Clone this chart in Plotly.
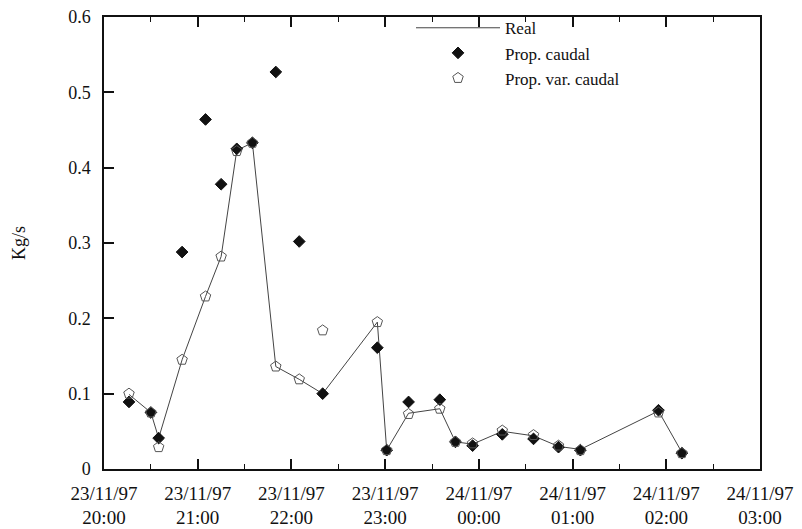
import plotly.graph_objects as go

times = ["1997-11-23 20:16", "1997-11-23 20:30", "1997-11-23 20:35", "1997-11-23 20:50",
         "1997-11-23 21:05", "1997-11-23 21:15", "1997-11-23 21:25", "1997-11-23 21:35",
         "1997-11-23 21:50", "1997-11-23 22:05", "1997-11-23 22:20", "1997-11-23 22:55",
         "1997-11-23 23:01", "1997-11-23 23:15", "1997-11-23 23:35", "1997-11-23 23:45",
         "1997-11-23 23:56", "1997-11-24 00:15", "1997-11-24 00:35", "1997-11-24 00:51",
         "1997-11-24 01:05", "1997-11-24 01:55", "1997-11-24 02:10"]

real = [0.099, 0.075, 0.041, 0.145, 0.229, 0.282, 0.423, 0.433, 0.136, 0.119, 0.100, 0.195,
        0.025, 0.074, 0.080, 0.036, 0.033, 0.050, 0.044, 0.030, 0.026, 0.077, 0.022]

prop_caudal = [0.089, 0.075, 0.041, 0.288, 0.464, 0.378, 0.425, 0.433, 0.527, 0.302, 0.100, 0.161,
               0.025, 0.089, 0.092, 0.036, 0.031, 0.046, 0.040, 0.029, 0.025, 0.078, 0.021]

prop_var_caudal = [0.100, 0.075, 0.029, 0.145, 0.229, 0.282, 0.422, 0.433, 0.136, 0.119, 0.184, 0.195,
                   0.025, 0.073, 0.080, 0.036, 0.034, 0.051, 0.045, 0.031, 0.025, 0.075, 0.021]

tick_vals = ["1997-11-23 20:00", "1997-11-23 21:00", "1997-11-23 22:00", "1997-11-23 23:00",
             "1997-11-24 00:00", "1997-11-24 01:00", "1997-11-24 02:00", "1997-11-24 03:00"]
tick_text = ["23/11/97<br>20:00", "23/11/97<br>21:00", "23/11/97<br>22:00", "23/11/97<br>23:00",
             "24/11/97<br>00:00", "24/11/97<br>01:00", "24/11/97<br>02:00", "24/11/97<br>03:00"]

font = "Liberation Serif, Times New Roman, serif"

fig = go.Figure()
fig.add_trace(go.Scatter(x=times, y=real, mode="lines", name="Real",
                         line=dict(color="#444444", width=1)))
fig.add_trace(go.Scatter(x=times, y=prop_caudal, mode="markers", name="Prop. caudal",
                         marker=dict(symbol="diamond", size=9, color="#111111",
                                     line=dict(color="#111111", width=1))))
fig.add_trace(go.Scatter(x=times, y=prop_var_caudal, mode="markers", name="Prop. var. caudal",
                         marker=dict(symbol="pentagon-open", size=11, color="#555555",
                                     line=dict(width=1))))

fig.update_layout(
    width=802, height=529,
    margin=dict(l=104, r=42, t=10, b=60),
    paper_bgcolor="white", plot_bgcolor="white",
    font=dict(family=font, size=18, color="#111111"),
    showlegend=True,
    legend=dict(x=0.468, y=1.015, xanchor="left", yanchor="top",
                bgcolor="rgba(0,0,0,0)", font=dict(size=17, family=font),
                tracegroupgap=0, itemwidth=84),
    xaxis=dict(type="date", range=["1997-11-23 20:00", "1997-11-24 03:00"],
               tickvals=tick_vals, ticktext=tick_text,
               ticks="inside", ticklen=10, tickwidth=2, tickcolor="#111111",
               minor=dict(ticks="inside", ticklen=5, tickwidth=1, tickcolor="#111111",
                          dtick=1800000),
               showline=True, linecolor="#111111", linewidth=1.5, mirror="ticks",
               showgrid=False, zeroline=False, tickfont=dict(size=19),
               ticklabelstandoff=6, automargin=False),
    yaxis=dict(range=[0, 0.6], tickvals=[0, 0.1, 0.2, 0.3, 0.4, 0.5, 0.6],
               ticktext=["0", "0.1", "0.2", "0.3", "0.4", "0.5", "0.6"],
               ticks="inside", ticklen=10, tickwidth=2, tickcolor="#111111",
               showline=True, linecolor="#111111", linewidth=1.5, mirror=True,
               showgrid=False, zeroline=False, tickfont=dict(size=18),
               ticklabelstandoff=8, automargin=False,
               title=dict(text="Kg/s", font=dict(size=18), standoff=38)),
)

fig.write_html("out.html")
